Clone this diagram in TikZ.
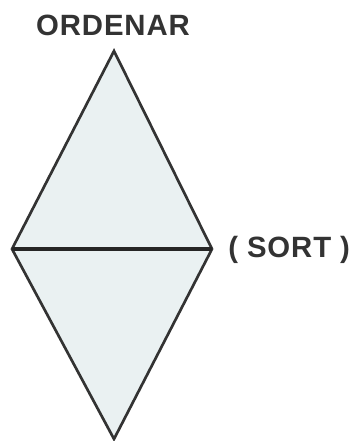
\documentclass[tikz,border=0pt]{standalone}
\usepackage{fontspec}
\setmainfont{Liberation Sans}
\usetikzlibrary{calc}

\definecolor{facecol}{RGB}{234,241,242}
\tikzset{
  lbl/.style={font=\fontsize{22}{26}\selectfont\bfseries\addfontfeatures{LetterSpace=3}, color=black!80, inner sep=0pt},
  facefill/.style={fill=facecol}
}

\begin{document}
\begin{tikzpicture}[x=0.75pt,y=-0.75pt]
  \useasboundingbox (0,0) rectangle (350,441);
  \coordinate (T) at (114,51); \coordinate (L) at (12,249);
  \coordinate (R) at (212,249); \coordinate (B) at (114,439);
  \fill[facefill] (T)--(L)--(B)--(R)--cycle;
  \draw[line width=2pt, black!80, line join=miter] (T)--(L)--(B)--(R)--cycle;
  \draw[line width=2.6pt, black!85] (L)--(R);
  \node[lbl] (ordenar) at (113,25) {ORDENAR};
  \node[lbl, anchor=west] (sort) at ($(R)+(16,1)$) {( SORT )};
\end{tikzpicture}
\end{document}
